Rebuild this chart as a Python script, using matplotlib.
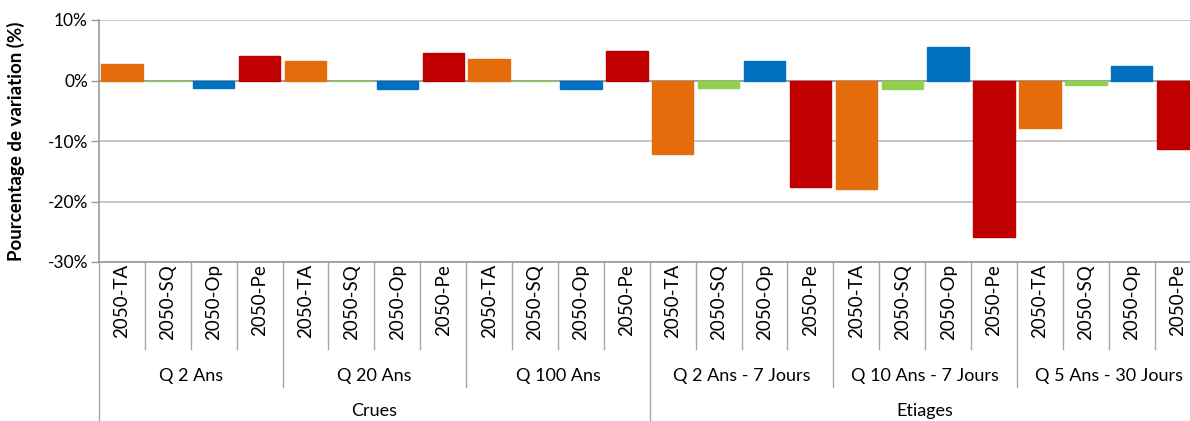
import matplotlib.pyplot as plt
import matplotlib.transforms as mtransforms
import numpy as np

# Data (% variation)
scenarios = ["2050-TA", "2050-SQ", "2050-Op", "2050-Pe"]
groups = ["Q 2 Ans", "Q 20 Ans", "Q 100 Ans",
          "Q 2 Ans - 7 Jours", "Q 10 Ans - 7 Jours", "Q 5 Ans - 30 Jours"]
supergroups = ["Crues", "Etiages"]
values = [
    2.8, -0.1, -1.2, 4.1,
    3.3, -0.1, -1.4, 4.6,
    3.5, -0.1, -1.4, 4.8,
    -12.2, -1.2, 3.3, -17.6,
    -17.9, -1.4, 5.6, -25.8,
    -7.8, -0.7, 2.4, -11.4,
]
scenario_colors = ["#E46C0A", "#92D050", "#0070C0", "#C00000"]

plt.rcParams["font.family"] = ["Lato", "DejaVu Sans"]

fig = plt.figure(figsize=(11.9, 4.21), dpi=100)
W, H = 1190, 421
left_px, right_px, top_px, bot_px = 99, 1200.6, 20, 262
ax = fig.add_axes([left_px / W, 1 - bot_px / H,
                   (right_px - left_px) / W, (bot_px - top_px) / H])

n = len(values)
x = np.arange(n)
colors = [scenario_colors[i % 4] for i in range(n)]
ax.axhline(0, color="#999999", linewidth=1.2, zorder=2)
ax.bar(x, values, width=0.9, color=colors, edgecolor=colors, linewidth=1.0, zorder=3)

ax.set_xlim(-0.5, n - 0.5)
ax.set_ylim(-30, 10)
ax.set_yticks([-30, -20, -10, 0, 10])
ax.set_yticklabels([f"{v}%" for v in [-30, -20, -10, 0, 10]], fontsize=12.5)
ax.yaxis.grid(True, color="#BFBFBF", linewidth=1.2, zorder=0)
ax.set_xticks([])
ax.tick_params(axis="y", length=6, color="#999999", width=1, pad=2)
for s in ["top", "right"]:
    ax.spines[s].set_visible(False)
ax.spines["left"].set_color("#999999")
ax.spines["bottom"].set_color("#999999")
ax.spines["left"].set_linewidth(1.2)
ax.spines["bottom"].set_linewidth(1.2)

ax.set_ylabel("Pourcentage de variation (%)", fontsize=13.5, fontweight="bold")
ax.yaxis.set_label_coords(-0.067, 0.5)

# Multi-level category axis
trans = mtransforms.blended_transform_factory(ax.transData, ax.transAxes)
hpx = bot_px - top_px


def yfrac(py):
    return (bot_px - py) / hpx


line_kw = dict(transform=trans, clip_on=False, color="#A6A6A6", linewidth=1)
for i in range(n + 1):
    xe = i - 0.5
    if i % 12 == 0:
        y_end = yfrac(425)
    elif i % 4 == 0:
        y_end = yfrac(387)
    else:
        y_end = yfrac(349)
    ax.plot([xe, xe], [0, y_end], **line_kw)

for i in range(n):
    ax.text(i, yfrac(264), scenarios[i % 4], transform=trans, rotation=90,
            ha="center", va="top", fontsize=13.5)

for g, name in enumerate(groups):
    ax.text(g * 4 + 1.5, yfrac(376), name, transform=trans,
            ha="center", va="center", fontsize=13)

for sg, name in enumerate(supergroups):
    ax.text(sg * 12 + 5.5, yfrac(411), name, transform=trans,
            ha="center", va="center", fontsize=13)

fig.savefig("out.png", dpi=100)
